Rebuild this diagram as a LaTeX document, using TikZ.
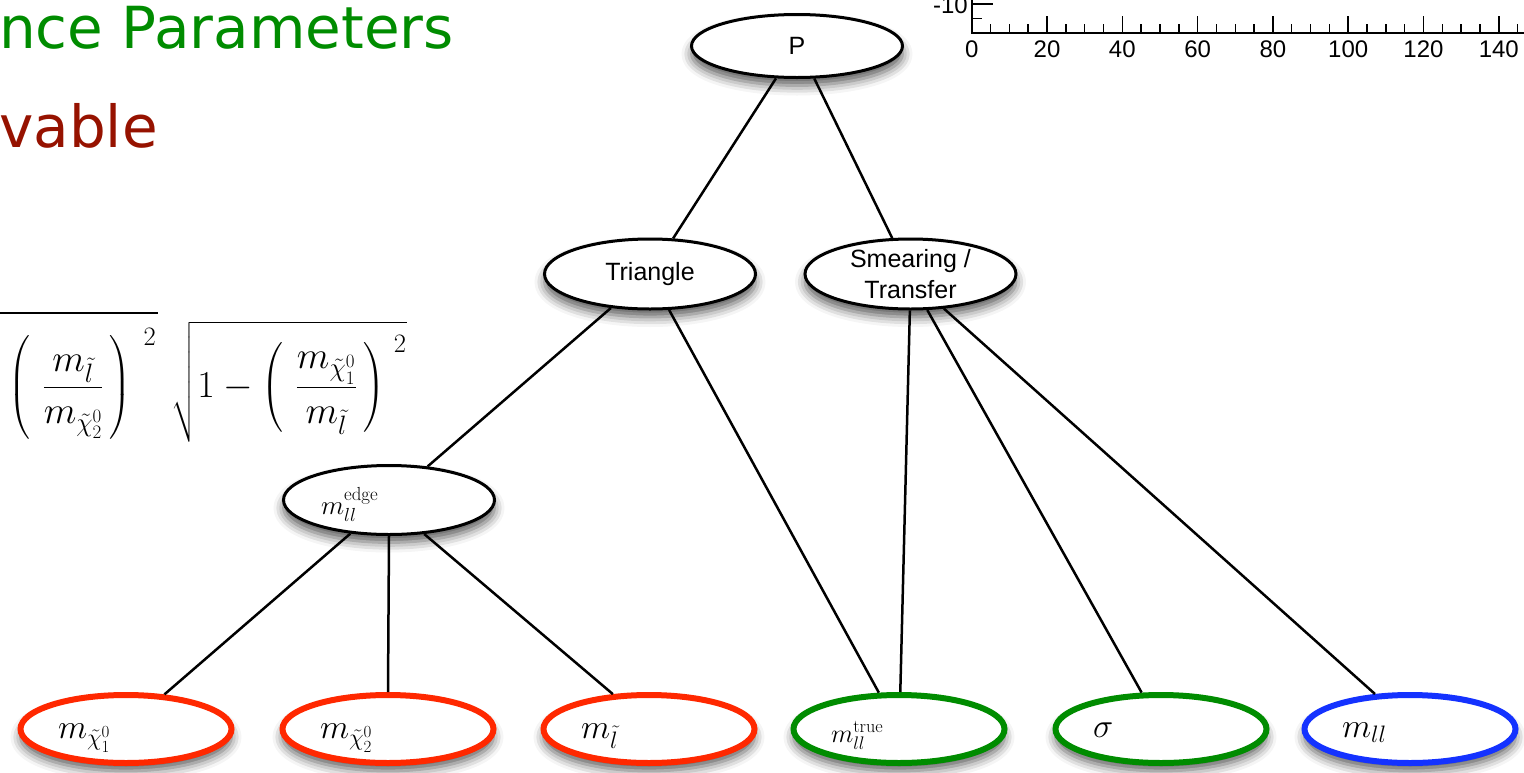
\documentclass[tikz,border=0pt]{standalone}
\usepackage{fix-cm}
\usepackage{amsmath}
\usepackage{fontspec}
\newfontfamily\helv{Liberation Sans}
\newfontfamily\dejavu{DejaVu Sans}
\usetikzlibrary{shapes.geometric,shadows.blur}
\definecolor{tgreen}{RGB}{0,140,0}
\definecolor{tred}{RGB}{150,18,0}
\definecolor{nred}{RGB}{255,40,0}
\definecolor{ngreen}{RGB}{0,140,0}
\definecolor{nblue}{RGB}{20,50,255}
\tikzset{
  nd/.style={ellipse, draw=black, line width=3pt, fill=white, minimum width=211pt,
    minimum height=64pt, inner sep=0pt, font=\helv\fontsize{25}{31}\selectfont, align=center,
    blur shadow={shadow xshift=0pt, shadow yshift=-8pt, shadow blur radius=10pt, shadow opacity=65}},
  leaf/.style={nd, line width=6pt, minimum height=68pt, text width=136pt, align=left,
    font=\fontsize{34}{34}\selectfont},
  conn/.style={line width=2.5pt, black},
  axl/.style={line width=1.5pt, black},
  axt/.style={anchor=base, inner sep=0pt, font=\helv\fontsize{24}{24}\selectfont},
  title/.style={anchor=base west, inner sep=0pt, font=\dejavu\fontsize{58}{60}\selectfont}
}
\newcommand{\lowlab}[2]{\raisebox{-#1pt}[0pt][0pt]{#2}}
\begin{document}
\begin{tikzpicture}[x=1pt,y=-1pt]
\useasboundingbox (0,0) rectangle (1524,772);
\clip (0,0) rectangle (1524,772);

% titles (clipped slide text)
\node[title, text=tgreen] (t1) at (-1,48) {nce Parameters};
\node[title, text=tred] (t2) at (-1,147) {vable};

% formula
\draw[line width=1.6pt] (0,313) -- (158,313);
\node[anchor=base west, inner sep=0pt, font=\fontsize{38}{40}\selectfont] (F) at (8,397)
  {$\displaystyle\left(\mkern6mu\frac{m_{\tilde l}}{m_{\tilde\chi^0_2}}\mkern3mu\right)^{\hspace{12pt}2}\mkern4mu\sqrt{1-\left(\mkern6mu\frac{m_{\tilde\chi^0_1}}{m_{\tilde l}}\mkern3mu\right)^{\hspace{9pt}2}}$};

% axis
\draw[axl] (972,-2) -- (972,33) -- (1530,33);
\foreach \v in {0,5,...,145} \draw[axl] (971.7+\v*3.765,33) -- ++(0,-8.6);
\foreach \v in {0,20,...,140} {
  \draw[axl] (971.7+\v*3.765,33) -- ++(0,-17.5);
  \node[axt] (xl\v) at (971.7+\v*3.765,57) {\v};
}
\draw[axl] (972,4) -- ++(21,0);
\draw[axl] (972,18.5) -- ++(10,0);
\node[anchor=east, inner sep=0pt, font=\helv\fontsize{24}{24}\selectfont] (yl) at (968,5.5) {-10};

% tree nodes
\node[nd, minimum height=63pt] (P) at (797,46) {P};
\node[nd, minimum height=70pt] (T) at (650,274) {Triangle};
\node[nd, minimum height=70pt] (S) at (910.5,274) {Smearing /\\Transfer};
\node[nd, minimum height=69pt, text width=136pt, align=left, font=\fontsize{27}{27}\selectfont] (E) at (389,500) {\lowlab{14}{$m_{ll}^{\mathrm{edge}}$}};

\node[leaf, draw=nred] (c1) at (126,729) {\lowlab{9}{$m_{\tilde\chi^0_1}$}};
\node[leaf, draw=nred] (c2) at (388,729) {\lowlab{9}{$m_{\tilde\chi^0_2}$}};
\node[leaf, draw=nred] (c3) at (649,729) {\lowlab{9}{$m_{\tilde l}$}};
\node[leaf, draw=ngreen, font=\fontsize{26}{26}\selectfont] (c4) at (899,729) {\lowlab{13}{$m_{ll}^{\mathrm{true}}$}};
\node[leaf, draw=ngreen] (c5) at (1161,729) {\lowlab{8}{$\sigma$}};
\node[leaf, draw=nblue] (c6) at (1410,729) {\lowlab{8}{$m_{ll}$}};

% connectors
\draw[conn] (P.237) -- (T.57);
\draw[conn] (P.298) -- (S.117.5);
\draw[conn] (T.221.8) -- (E.41.1);
\draw[conn] (T.298.5) -- (c4.119.4);
\draw[conn] (S.269.3) -- (c4.88.5);
\draw[conn] (S.295.7) -- (c5.118.3);
\draw[conn] (S.314.2) -- (c6.135.7);
\draw[conn] (E.221.4) -- (c1.42.9);
\draw[conn] (E.270) -- (c2.90);
\draw[conn] (E.316.5) -- (c3.136.4);
\end{tikzpicture}
\end{document}
